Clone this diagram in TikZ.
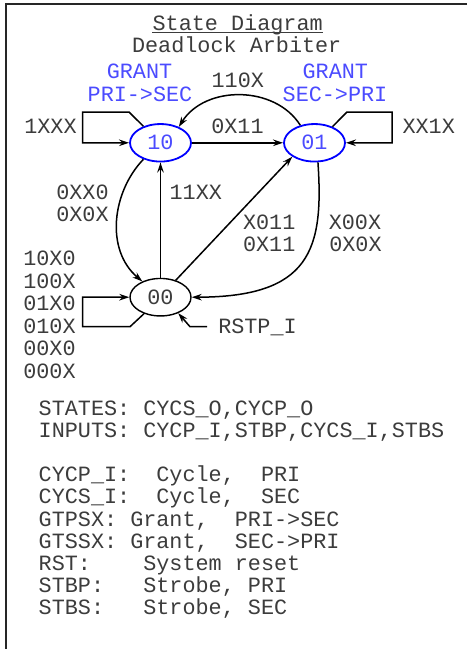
\documentclass[tikz,border=0pt]{standalone}
\usepackage{fontspec}
\setmonofont{Liberation Mono}
\usetikzlibrary{arrows.meta,shapes.geometric}
\definecolor{grantblue}{RGB}{75,75,255}
\definecolor{labgray}{RGB}{60,60,60}

\begin{document}
\begin{tikzpicture}[
    x=1pt,y=-1pt,
    font=\ttfamily\fontsize{21.8pt}{22.2pt}\selectfont\frenchspacing,
    state/.style={ellipse,draw=black,line width=1.4pt,minimum width=61pt,minimum height=37.5pt,inner sep=0pt,text=labgray},
    grantstate/.style={state,draw=blue,line width=1.8pt,text=grantblue},
    lab/.style={anchor=base,inner sep=0pt,text=labgray},
    grantlab/.style={lab,text=grantblue},
    trans/.style={
        draw=black,
        line width=1.5pt,
        -{Stealth[length=10pt,width=6.5pt]}
    },
    framebar/.style={draw=black!85,line width=1.8pt}
]

\useasboundingbox (0,0) rectangle (467,649);
\draw[framebar] (467,4) -- (5.7,4) -- (5.7,649);

\node[lab] (title) at (237.7,30) {State Diagram};
\draw[labgray,line width=1pt] ([yshift=-2.4pt]title.base west) -- ([yshift=-2.4pt]title.base east);
\node[lab] (subtitle) at (236.7,52.3) {Deadlock Arbiter};

\node[grantstate] (s10) at (160.5,142.8) {10};
\node[grantstate] (s01) at (314.5,142.8) {01};
\node[state] (s00) at (160.5,297.2) {00};

\node[grantlab] (g10a) at (139.5,78.3) {GRANT};
\node[grantlab] (g10b) at (140,101.7) {PRI->SEC};
\node[grantlab] (g01a) at (335.3,78.3) {GRANT};
\node[grantlab] (g01b) at (335,101.7) {SEC->PRI};

\draw[trans] (s10) -- (s01);
\draw[trans] (s01.129) .. controls (275,85) and (205,85) .. (s10.41);
\draw[trans] (s00) -- (s10);
\draw[trans] (s00.48) -- (s01.212);
\draw[trans] (s10.224) .. controls (112,192) and (105,250) .. (s00.139);
\draw[trans] (s01.280) .. controls (324,250) and (310,297) .. (s00.east);

\draw[trans] (s10.136) -- (129,112) -- (82.7,112) -- (82.7,142.8) -- (s10.west);
\draw[trans] (s01.42) -- (347,112) -- (392,112) -- (392,142.8) -- (s01.east);
\draw[trans] (s00.225) -- (130,326.7) -- (82.7,326.7) -- (82.7,297.2) -- (s00.west);

\coordinate (rstin) at (207,326.7);
\draw[trans] (rstin) -- (190,326.7) -- (s00.318);
\node[lab] (rst) at (257.5,333.3) {RSTP\_I};

\node[lab] (l110x) at (237.8,87.3) {110X};
\node[lab] (l0x11a) at (237.5,133.3) {0X11};
\node[lab] (l1xxx) at (50.5,133.3) {1XXX};
\node[lab] (lxx1x) at (428.7,133.3) {XX1X};
\node[lab] (l0xx0) at (82.5,199) {0XX0};
\node[lab] (l0x0xa) at (82.5,221) {0X0X};
\node[lab] (l11xx) at (195.8,199) {11XX};
\node[lab] (lx011) at (269.2,229.3) {X011};
\node[lab] (l0x11b) at (269.2,251.7) {0X11};
\node[lab] (lx00x) at (355,229.3) {X00X};
\node[lab] (l0x0xb) at (355.5,251.7) {0X0X};

\foreach \txt [count=\i from 0] in {10X0,100X,01X0,010X,00X0,000X}
    \node[lab] (loop\i) at (49.5,265.7+22.5*\i) {\txt};

\foreach \txt [count=\i from 0] in {{STATES: CYCS\_O,CYCP\_O},{INPUTS: CYCP\_I,STBP,CYCS\_I,STBS}}
    \node[lab,anchor=base west] (hdr\i) at (38.5,415+22.8*\i) {\txt};

\foreach \txt [count=\i from 0] in {{CYCP\_I:~~Cycle,~~PRI},{CYCS\_I:~~Cycle,~~SEC},{GTPSX: Grant,~~PRI->SEC},{GTSSX: Grant,~~SEC->PRI},{RST:~~~~System reset},{STBP:~~~Strobe, PRI},{STBS:~~~Strobe, SEC}}
    \node[lab,anchor=base west] (def\i) at (38.5,481.7+22.2*\i) {\txt};
\end{tikzpicture}
\end{document}
